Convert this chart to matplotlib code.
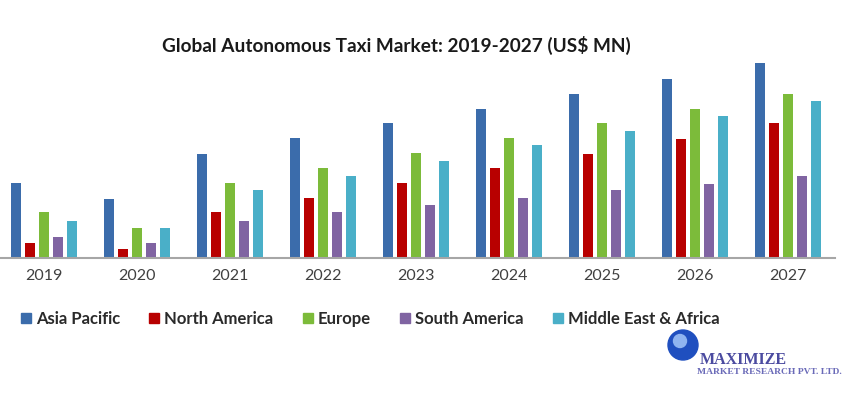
import numpy as np
import matplotlib
matplotlib.use("Agg")
import matplotlib.pyplot as plt
from matplotlib.patches import Rectangle, Ellipse

# data (arbitrary units)
years = ["2019", "2020", "2021", "2022", "2023", "2024", "2025", "2026", "2027"]
regions = ["Asia Pacific", "North America", "Europe", "South America", "Middle East & Africa"]
asia_pacific = [75, 59, 104, 120, 135, 149, 164, 179, 195]
north_america = [15, 9, 46, 60, 75, 90, 104, 119, 135]
europe = [46, 30, 75, 90, 105, 120, 135, 149, 164]
south_america = [21, 15, 37, 46, 53, 60, 68, 74, 82]
middle_east_africa = [37, 30, 68, 82, 97, 113, 127, 142, 157]

colors = ["#3b6cab", "#b80000", "#7cbb3a", "#8064a2", "#4aafc8"]
series = [asia_pacific, north_america, europe, south_america, middle_east_africa]

plt.rcParams['font.family'] = ['Lato', 'DejaVu Sans']

fig = plt.figure(figsize=(8.5, 3.94), dpi=100)
ax = fig.add_axes([-2.5 / 850, 136 / 394, 837 / 850, 210 / 394])

x = np.arange(len(years))
step = 0.148
width = 0.108
for i, (vals, col) in enumerate(zip(series, colors)):
    ax.bar(x + (i - 2) * step, vals, width, color=col, label=regions[i],
           edgecolor="none", zorder=2)

ax.set_xlim(-0.5, len(years) - 0.5)
ax.set_ylim(0, 210)
ax.set_xticks(x)
ax.set_xticklabels(years, fontsize=11.5, color="#404040")
ax.tick_params(axis="x", length=0, pad=8)
ax.set_yticks([])
for s in ["top", "left", "right"]:
    ax.spines[s].set_visible(False)
ax.spines["bottom"].set_color("#a6a6a6")
ax.spines["bottom"].set_linewidth(1.5)

fig.text(396 / 850, 1 - 45 / 394, "Global Autonomous Taxi Market: 2019-2027 (US$ MN)",
         ha="center", va="center", fontsize=13.7, fontweight="bold", color="#1a1a1a")

handles = [Rectangle((0, 0), 1, 1, color=c) for c in colors]
leg = fig.legend(handles, regions, loc="center left", ncol=5,
                 bbox_to_anchor=(6 / 850, 1 - 319 / 394), frameon=False,
                 prop={"size": 12, "weight": "bold"}, handlelength=0.6,
                 handleheight=0.6, handletextpad=0.3, columnspacing=1.75)
for t in leg.get_texts():
    t.set_color("#2a2a2a")

# logo
fig.patches.append(Ellipse((683 / 850, 1 - 345 / 394), 30 / 850, 30 / 394,
                           transform=fig.transFigure, color="#1f4fbf", zorder=3))
fig.patches.append(Ellipse((680 / 850, 1 - 341 / 394), 13 / 850, 13 / 394,
                           transform=fig.transFigure, color="#8fb4f0", zorder=4))
fig.text(700 / 850, 1 - 360 / 394, "MAXIMIZE", fontsize=11.5, fontweight="bold",
         family="Liberation Serif", color="#4b4ba0", va="center", ha="left")
fig.text(697 / 850, 1 - 372 / 394, "MARKET RESEARCH PVT. LTD.", fontsize=6.8,
         fontweight="bold", family="Liberation Serif", color="#6a6ab8",
         va="center", ha="left")

fig.savefig("out.png", dpi=100)
